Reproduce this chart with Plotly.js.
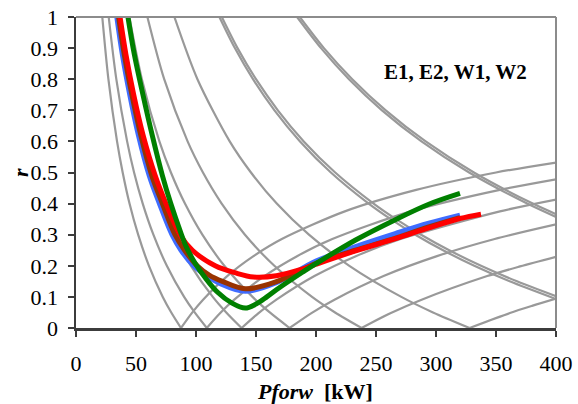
<!DOCTYPE html>
<html>
<head>
<meta charset="utf-8">
<script src="https://cdn.plot.ly/plotly-3.0.1.min.js"></script>
<style>html,body{margin:0;padding:0;background:#fff;}#chart{width:578px;height:404px;}</style>
</head>
<body>
<div id="chart"></div>
<script>
// ---------- data ----------
const xTicks = [0, 50, 100, 150, 200, 250, 300, 350, 400];
const yTicks = [0, 0.1, 0.2, 0.3, 0.4, 0.5, 0.6, 0.7, 0.8, 0.9, 1];

// gray reference curves, falling branches (shared r levels)
const grayFallY = [1, 0.8, 0.6, 0.5, 0.4, 0.3, 0.2, 0.1, 0.05, 0];
const grayFallA = [21.9, 27.0, 34.2, 38.9, 44.6, 51.8, 60.8, 72.3, 79.4, 87.5];
const grayFallB = [27.25, 33.6, 42.6, 48.4, 55.6, 64.5, 75.7, 90.1, 98.9, 109];
const grayFallC = [34.5, 42.6, 53.9, 61.3, 70.4, 81.7, 95.8, 114, 125.2, 138];
const grayFallD = [44.5, 54.9, 69.5, 79.1, 90.8, 105.3, 123.6, 147.1, 161.5, 178];
const grayFallE = [59.5, 73.5, 93, 105.8, 121.4, 140.8, 165.3, 196.7, 215.9, 238];
const grayFallF = [82, 101.2, 128.1, 145.8, 167.3, 194.1, 227.8, 271.1, 297.5, 328];

// gray reference curves, rising branches
const grayRiseAX = [87.5, 96.5, 105.9, 126, 147.9, 171.5, 224, 283.5, 350, 400];
const grayRiseAY = [0, 0.048, 0.091, 0.167, 0.231, 0.286, 0.375, 0.444, 0.5, 0.532];
const grayRiseBX = [109, 120.2, 131.9, 157, 184.2, 213.6, 279, 353.2, 400];
const grayRiseBY = [0, 0.048, 0.091, 0.167, 0.231, 0.286, 0.375, 0.444, 0.478];
const grayRiseCX = [138, 152.1, 167, 198.7, 233.2, 270.5, 353.3, 400];
const grayRiseCY = [0, 0.048, 0.091, 0.167, 0.231, 0.286, 0.375, 0.413];
const grayRiseDX = [178, 196.2, 215.4, 256.3, 300.8, 348.9, 400];
const grayRiseDY = [0, 0.048, 0.091, 0.167, 0.231, 0.286, 0.333];
const grayRiseEX = [238, 262.4, 288, 342.7, 370, 400];
const grayRiseEY = [0, 0.048, 0.091, 0.167, 0.198, 0.229];
const grayRiseFX = [328, 361.6, 380, 400];
const grayRiseFY = [0, 0.048, 0.071, 0.0945];

// gray double curves (falling only)
const grayPair1Y = [1, 0.9, 0.8, 0.7, 0.6, 0.5, 0.4, 0.35, 0.3, 0.25, 0.2, 0.15, 0.093];
const grayPair1X = [119.5, 132.4, 147.5, 165.4, 186.7, 212.4, 243.9, 262.3, 282.8, 305.9, 331.9, 361.4, 400];
const grayPair2Y = [1, 0.9, 0.8, 0.7, 0.6, 0.5, 0.4, 0.35, 0.3, 0.25, 0.2, 0.15, 0.102];
const grayPair2X = [121.5, 134.6, 150, 168.2, 189.8, 216, 248, 266.7, 287.6, 311, 337.5, 367.5, 400];
const grayPair3Y = [1, 0.9, 0.8, 0.7, 0.6, 0.5, 0.4, 0.357];
const grayPair3X = [184.25, 204.2, 227.5, 255, 287.9, 327.6, 376, 400];
const grayPair4Y = [1, 0.9, 0.8, 0.7, 0.6, 0.5, 0.4, 0.366];
const grayPair4X = [186.5, 206.6, 230.2, 258.1, 291.4, 331.6, 380.6, 400];

// measured curves
const blueX  = [34, 38.6, 44.8, 52, 61, 69.5, 80, 87.5, 98, 108, 120, 141, 167, 200, 233, 267, 294, 320];
const blueY  = [1, 0.88, 0.75, 0.62, 0.49, 0.40, 0.30, 0.25, 0.20, 0.17, 0.143, 0.118, 0.146, 0.215, 0.262, 0.305, 0.337, 0.363];
const brownX = [35.5, 40.2, 46.6, 54, 63.2, 72, 82.5, 90.5, 101, 111, 122, 141, 167, 200, 233, 267, 294, 320];
const brownY = [1, 0.88, 0.75, 0.62, 0.49, 0.40, 0.30, 0.25, 0.20, 0.17, 0.15, 0.126, 0.149, 0.208, 0.25, 0.29, 0.325, 0.355];
const redX   = [36.7, 41.6, 48.1, 55.9, 66, 75, 86.7, 97, 116, 133, 148, 167, 189, 200, 233, 267, 294, 320, 337.5];
const redY   = [1, 0.88, 0.75, 0.62, 0.49, 0.40, 0.30, 0.25, 0.20, 0.177, 0.164, 0.168, 0.19, 0.205, 0.248, 0.288, 0.322, 0.352, 0.366];
const greenX = [43.3, 48.6, 55.8, 63.5, 72, 79, 87, 92, 99, 108, 118, 130, 141, 150, 159, 167, 178, 189, 200, 233, 267, 294, 320];
const greenY = [1, 0.88, 0.75, 0.62, 0.49, 0.40, 0.31, 0.26, 0.21, 0.16, 0.115, 0.08, 0.064, 0.077, 0.1, 0.123, 0.152, 0.18, 0.207, 0.283, 0.35, 0.398, 0.433];

const labelText = "E1, E2, W1, W2";
const xTitle = "<b><i>Pforw</i>&nbsp;&nbsp;[kW]</b>";
const yTitle = "<b><i>r</i></b>";

// ---------- traces ----------
const GRAY = "#999999";
function grayTrace(x, y) {
  return {x: x, y: y, type: "scatter", mode: "lines", hoverinfo: "skip",
          line: {color: GRAY, width: 2.2, shape: "spline", smoothing: 0.8}, showlegend: false};
}
const traces = [
  grayTrace(grayFallA, grayFallY), grayTrace(grayFallB, grayFallY), grayTrace(grayFallC, grayFallY),
  grayTrace(grayFallD, grayFallY), grayTrace(grayFallE, grayFallY), grayTrace(grayFallF, grayFallY),
  grayTrace(grayRiseAX, grayRiseAY), grayTrace(grayRiseBX, grayRiseBY), grayTrace(grayRiseCX, grayRiseCY),
  grayTrace(grayRiseDX, grayRiseDY), grayTrace(grayRiseEX, grayRiseEY), grayTrace(grayRiseFX, grayRiseFY),
  grayTrace(grayPair1X, grayPair1Y), grayTrace(grayPair2X, grayPair2Y),
  grayTrace(grayPair3X, grayPair3Y), grayTrace(grayPair4X, grayPair4Y)
];
function meas(x, y, color, w, name) {
  return {x: x, y: y, type: "scatter", mode: "lines", name: name,
          line: {color: color, width: w, shape: "spline", smoothing: 1}, showlegend: false};
}
traces.push(meas(blueX, blueY, "#3f6cff", 5, "E1"));
traces.push(meas(brownX, brownY, "#993300", 5, "E2"));
traces.push(meas(redX, redY, "#ff0000", 5, "W1"));
traces.push(meas(greenX, greenY, "#008000", 5, "W2"));

const FONT = "'Liberation Serif', 'Times New Roman', Times, serif";
const layout = {
  width: 578, height: 404,
  margin: {l: 76, r: 22, t: 17, b: 76, pad: 0},
  paper_bgcolor: "#fff", plot_bgcolor: "#fff",
  font: {family: FONT, size: 22, color: "#000"},
  showlegend: false,
  xaxis: {
    range: [0, 400], tickvals: xTicks, ticktext: xTicks.map(String),
    showgrid: false, zeroline: false,
    showline: true, linecolor: "#3c3c3c", linewidth: 2.5,
    ticks: "outside", ticklen: 6, tickwidth: 2, tickcolor: "#3c3c3c",
    ticklabelstandoff: 8,
    tickfont: {family: FONT, size: 22, color: "#000"}
  },
  yaxis: {
    range: [0, 1], tickvals: yTicks, ticktext: yTicks.map(String),
    showgrid: false, zeroline: false,
    showline: true, linecolor: "#3c3c3c", linewidth: 2.5,
    ticks: "outside", ticklen: 6, tickwidth: 2, tickcolor: "#3c3c3c",
    ticklabelstandoff: 5,
    tickfont: {family: FONT, size: 22, color: "#000"}
  },
  shapes: [
    {type: "line", xref: "paper", yref: "paper", x0: 0, x1: 1, y0: 1, y1: 1, line: {color: "#8c8c8c", width: 2}},
    {type: "line", xref: "paper", yref: "paper", x0: 1, x1: 1, y0: 0, y1: 1, line: {color: "#8c8c8c", width: 2}}
  ],
  annotations: [
    {x: 316, y: 0.823, xref: "x", yref: "y", text: "<b>" + labelText + "</b>", showarrow: false,
     font: {family: FONT, size: 21, color: "#000"}},
    {x: 0.498, y: -0.2026, xref: "paper", yref: "paper", text: xTitle, showarrow: false,
     xanchor: "center", yanchor: "middle", font: {family: FONT, size: 22, color: "#000"}},
    {x: -0.1167, y: 0.5016, xref: "paper", yref: "paper", text: yTitle, showarrow: false, textangle: -90,
     xanchor: "center", yanchor: "middle", font: {family: FONT, size: 22, color: "#000"}}
  ]
};
Plotly.newPlot("chart", traces, layout, {staticPlot: true, displayModeBar: false});
</script>
</body>
</html>
